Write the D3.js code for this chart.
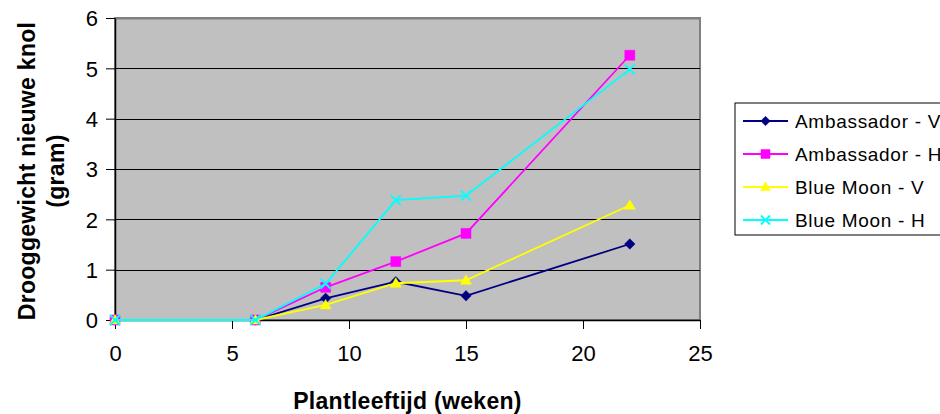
<!DOCTYPE html>
<html>
<head>
<meta charset="utf-8">
<script src="https://cdn.jsdelivr.net/npm/d3@7"></script>
<style>
  html, body { margin: 0; padding: 0; background: #fff; }
  svg { display: block; font-family: "Liberation Sans", Arial, sans-serif; }
</style>
</head>
<body>
<div id="chart"></div>
<script>
// weeks after planting
var weeks = [0, 6, 9, 12, 15, 22];

var seriesNames = ['Ambassador - V', 'Ambassador - H', 'Blue Moon - V', 'Blue Moon - H'];
var ambassadorV = [0, 0, 0.43, 0.76, 0.48, 1.51];
var ambassadorH = [0, 0, 0.65, 1.16, 1.72, 5.26];
var blueMoonV   = [0, 0, 0.30, 0.73, 0.79, 2.28];
var blueMoonH   = [0, 0, 0.72, 2.38, 2.47, 4.98];

var xTicks = [0, 5, 10, 15, 20, 25];
var yTicks = [0, 1, 2, 3, 4, 5, 6];

var colors = ['#000080', '#FF00FF', '#FFFF00', '#00FFFF'];
var symbols = ['diamond', 'square', 'triangle', 'cross'];

var allValues = [ambassadorV, ambassadorH, blueMoonV, blueMoonH];

var fullWidth = 940, fullHeight = 414;
var margin = {top: 18, left: 115, right: 240, bottom: 94};
var width = fullWidth - margin.left - margin.right;   // 585
var height = fullHeight - margin.top - margin.bottom; // 302

var svg = d3.select('#chart').append('svg')
  .attr('width', fullWidth)
  .attr('height', fullHeight);

var g = svg.append('g')
  .attr('transform', 'translate(' + margin.left + ',' + margin.top + ')');

var x = d3.scaleLinear().domain([0, 25]).range([0, width]);
var y = d3.scaleLinear().domain([0, 6]).range([height, 0]);

// plot area
g.append('rect')
  .attr('x', 0).attr('y', 0)
  .attr('width', width).attr('height', height)
  .attr('fill', '#C0C0C0')
  .attr('stroke', '#808080')
  .attr('stroke-width', 2);

// gridlines
g.append('g').selectAll('line')
  .data(yTicks.slice(1))
  .enter().append('line')
  .attr('x1', 0).attr('x2', width)
  .attr('y1', function(d) { return Math.round(y(d)) + 0.5; })
  .attr('y2', function(d) { return Math.round(y(d)) + 0.5; })
  .attr('stroke', function(d) { return d === 6 ? '#808080' : '#000'; })
  .attr('stroke-width', function(d) { return d === 6 ? 2 : 1; });

// axes
var xAxis = d3.axisBottom(x).tickValues(xTicks).tickFormat(d3.format('d'))
  .tickSize(9).tickSizeOuter(0).tickPadding(16);
var yAxis = d3.axisLeft(y).tickValues(yTicks).tickFormat(d3.format('d'))
  .tickSize(9).tickSizeOuter(0).tickPadding(8);

var gx = g.append('g').attr('transform', 'translate(0,' + height + ')').call(xAxis);
var gy = g.append('g').call(yAxis);

[gx, gy].forEach(function(ax) {
  ax.attr('font-size', null).attr('font-family', null);
  ax.select('.domain').attr('stroke', '#000').attr('stroke-width', 1.5);
  ax.selectAll('.tick line').attr('stroke', '#000');
  ax.selectAll('.tick text')
    .attr('fill', '#000')
    .style('font-size', '22px');
});
gy.selectAll('.tick text').attr('dy', '0.36em');

// lines and markers
var line = d3.line()
  .x(function(d, i) { return x(weeks[i]); })
  .y(function(d) { return y(d); });

function symbolPath(kind, size) {
  if (kind === 'diamond') {
    var s = size * 1.05;
    return 'M0,' + (-s) + 'L' + s + ',0L0,' + s + 'L' + (-s) + ',0Z';
  }
  if (kind === 'square') {
    return 'M' + (-size) + ',' + (-size) + 'h' + (2 * size) + 'v' + (2 * size) + 'h' + (-2 * size) + 'Z';
  }
  if (kind === 'triangle') {
    return 'M0,' + (-size * 1.1) + 'L' + size * 1.1 + ',' + size * 0.8 + 'L' + (-size * 1.1) + ',' + size * 0.8 + 'Z';
  }
  return 'M' + (-size) + ',' + (-size) + 'L' + size + ',' + size + 'M' + size + ',' + (-size) + 'L' + (-size) + ',' + size;
}

allValues.forEach(function(vals, si) {
  var sg = g.append('g');
  sg.append('path')
    .datum(vals)
    .attr('d', line)
    .attr('fill', 'none')
    .attr('stroke', colors[si])
    .attr('stroke-width', 1.8);
  sg.selectAll('path.mark')
    .data(vals)
    .enter().append('path')
    .classed('mark', true)
    .attr('transform', function(d, i) { return 'translate(' + x(weeks[i]) + ',' + y(d) + ')'; })
    .attr('d', symbolPath(symbols[si], 5))
    .attr('fill', symbols[si] === 'cross' ? 'none' : colors[si])
    .attr('stroke', colors[si])
    .attr('stroke-width', symbols[si] === 'cross' ? 1.8 : 0.5);
});

// axis titles
svg.append('text')
  .attr('x', margin.left + width / 2).attr('y', 409)
  .attr('text-anchor', 'middle')
  .style('font-size', '23px')
  .style('font-weight', 'bold')
  .style('letter-spacing', '0.3px')
  .text('Plantleeftijd (weken)');

var yTitle = svg.append('text')
  .attr('transform', 'translate(27,171) rotate(-90)')
  .attr('text-anchor', 'middle')
  .style('font-size', '23px')
  .style('font-weight', 'bold')
  .style('letter-spacing', '0.3px');
yTitle.append('tspan').attr('x', 0).attr('y', 8).text('Drooggewicht nieuwe knol');
yTitle.append('tspan').attr('x', 0).attr('y', 37).text('(gram)');

// legend (text runs past the right edge, as in the original)
var legend = svg.append('g').attr('transform', 'translate(735,103)');
legend.append('rect')
  .attr('x', 0).attr('y', 0)
  .attr('width', 220).attr('height', 132)
  .attr('fill', '#fff')
  .attr('stroke', '#000')
  .attr('stroke-width', 1);

seriesNames.forEach(function(name, i) {
  var row = legend.append('g').attr('transform', 'translate(0,' + (18 + i * 33) + ')');
  row.append('line')
    .attr('x1', 8).attr('x2', 53)
    .attr('y1', 0).attr('y2', 0)
    .attr('stroke', colors[i])
    .attr('stroke-width', 1.8);
  row.append('path')
    .attr('transform', 'translate(30.5,0)')
    .attr('d', symbolPath(symbols[i], 4.5))
    .attr('fill', symbols[i] === 'cross' ? 'none' : colors[i])
    .attr('stroke', colors[i])
    .attr('stroke-width', symbols[i] === 'cross' ? 1.8 : 0.5);
  row.append('text')
    .attr('x', 60).attr('y', 0)
    .attr('dy', '0.36em')
    .style('font-size', '19px')
    .style('letter-spacing', '0.7px')
    .text(name);
});
</script>
</body>
</html>
